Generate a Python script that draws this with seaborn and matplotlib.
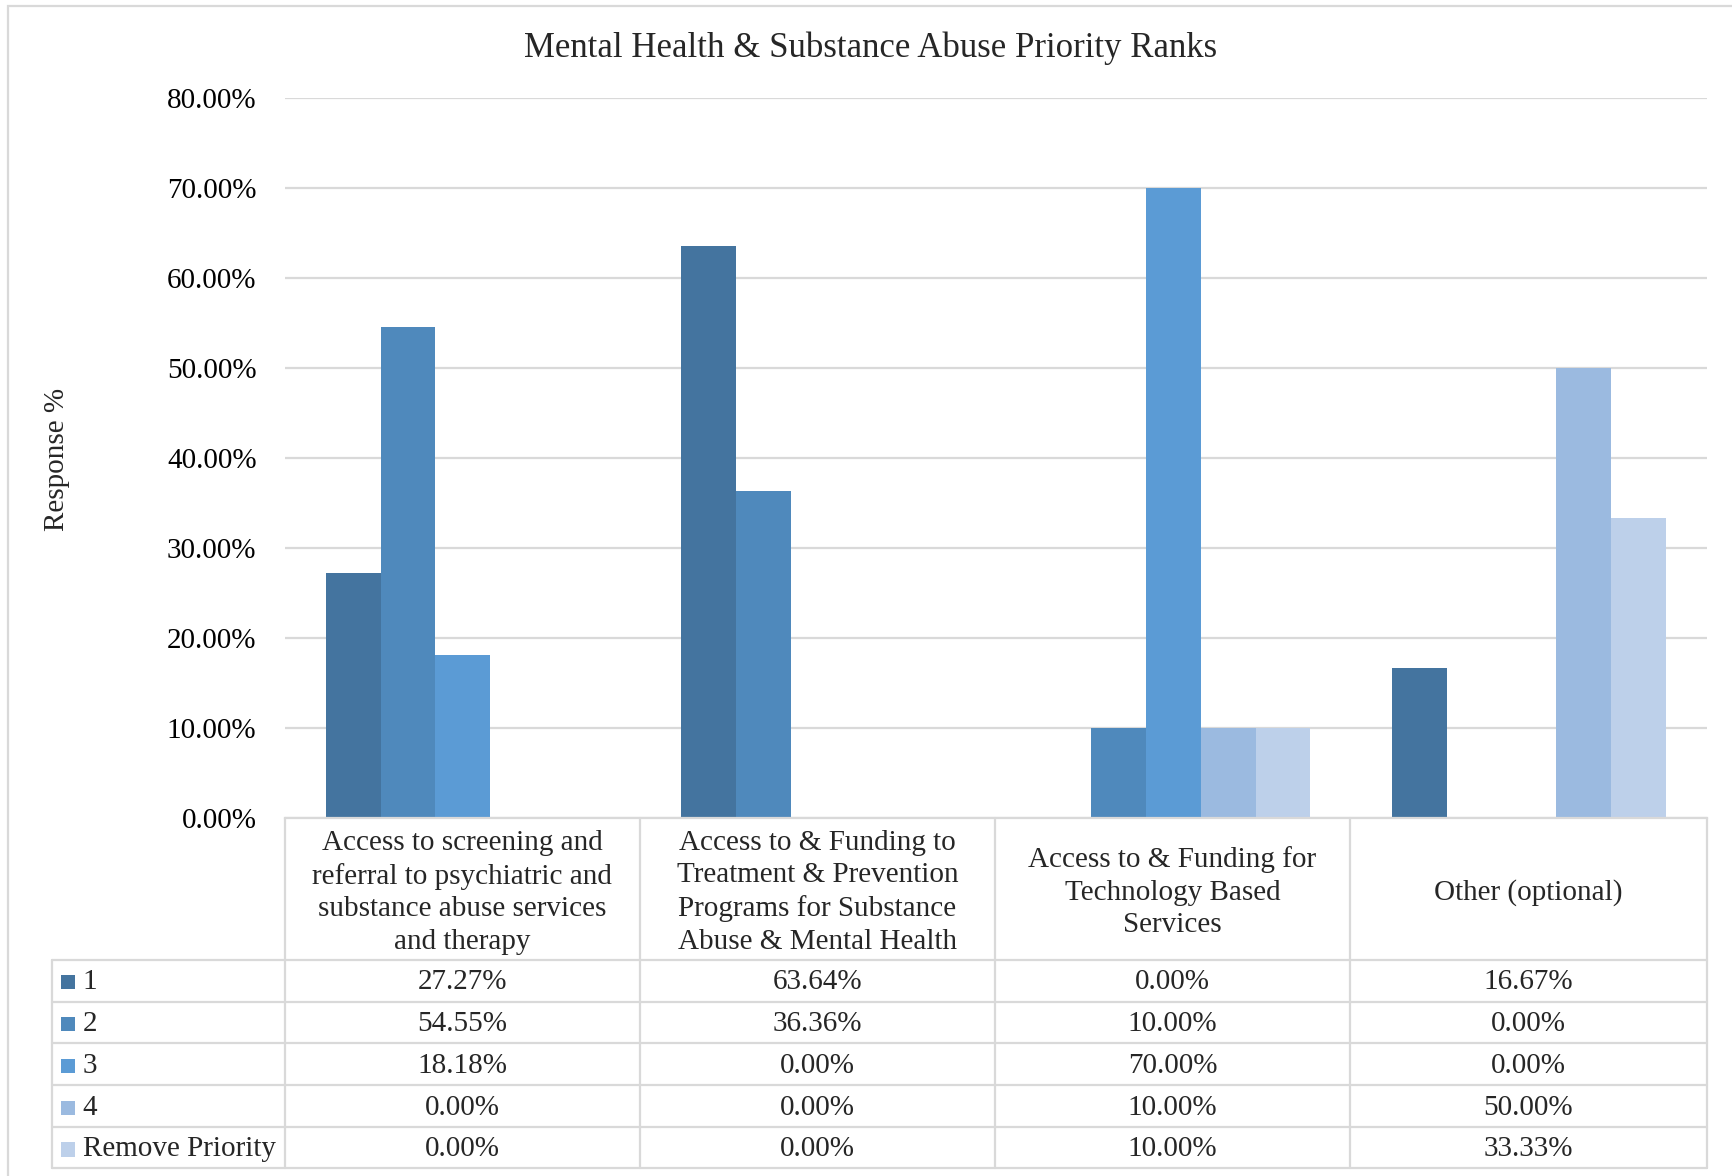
import numpy as np
import pandas as pd
import matplotlib
matplotlib.use("Agg")
import matplotlib.pyplot as plt
import seaborn as sns
from matplotlib.patches import Rectangle
from matplotlib.lines import Line2D

# ---------------- data ----------------
categories = [
    "Access to screening and\nreferral to psychiatric and\nsubstance abuse services\nand therapy",
    "Access to & Funding to\nTreatment & Prevention\nPrograms for Substance\nAbuse & Mental Health",
    "Access to & Funding for\nTechnology Based\nServices",
    "Other (optional)",
]
series = ["1", "2", "3", "4", "Remove Priority"]
rank_1 = [27.27, 63.64, 0.00, 16.67]
rank_2 = [54.55, 36.36, 10.00, 0.00]
rank_3 = [18.18, 0.00, 70.00, 0.00]
rank_4 = [0.00, 0.00, 10.00, 50.00]
remove_priority = [0.00, 0.00, 10.00, 33.33]
y_ticks = [0, 10, 20, 30, 40, 50, 60, 70, 80]
colors = ["#44749F", "#4F89BC", "#5B9BD5", "#9BBAE0", "#BDD0EA"]
title = "Mental Health & Substance Abuse Priority Ranks"
y_label = "Response %"

values = [rank_1, rank_2, rank_3, rank_4, remove_priority]
rows = []
for s, vals in zip(series, values):
    for c, v in zip(categories, vals):
        rows.append({"category": c, "rank": s, "value": v})
df = pd.DataFrame(rows)

# ---------------- style ----------------
sns.set_theme(style="white")
plt.rcParams["font.family"] = ["Liberation Serif", "DejaVu Serif"]
FS = 21
GRID = "#D9D9D9"

W, H = 1568.0, 1065.0  # layout reference grid
fig = plt.figure(figsize=(17.32, 11.76), dpi=100)
ax_l, ax_r, ax_t, ax_b = 258, 1545, 89, 741
ax = fig.add_axes([ax_l / W, 1 - ax_b / H, (ax_r - ax_l) / W, (ax_b - ax_t) / H])

sns.barplot(data=df, x="category", y="value", hue="rank", order=categories,
            hue_order=series, palette=colors, width=0.77, gap=0,
            saturation=1, linewidth=0, legend=False, ax=ax)

ax.set_xlim(-0.5, len(categories) - 0.5)
ax.set_ylim(0, 80)
ax.set_yticks(y_ticks)
ax.yaxis.set_major_formatter(lambda v, p: f"{v:.2f}%")
ax.set_xticks([])
ax.set_xlabel("")
ax.set_ylabel("")
ax.grid(axis="y", color=GRID, lw=1.6)
ax.set_axisbelow(True)
for s in ["left", "right", "top"]:
    ax.spines[s].set_visible(False)
ax.spines["bottom"].set_color(GRID)
ax.spines["bottom"].set_linewidth(1.6)
ax.tick_params(axis="y", length=0, pad=20.5, labelsize=FS, labelcolor="black")

# title & y label
fig.text(788 / W, 1 - 44 / H, title, ha="center", va="center", fontsize=25)
fig.text(52 / W, 1 - 416 / H, y_label, ha="center", va="center",
         rotation=90, fontsize=FS)

# ---------------- data table ----------------
def tx(xp):
    return (xp - ax_l) / (ax_r - ax_l)

def ty(yp):
    return (ax_b - yp) / (ax_b - ax_t)

tr = ax.transAxes
row_lines = [869, 907, 945, 983, 1021, 1058]
col_edges = [258, 579, 901, 1222, 1545]

for yl in row_lines:
    ax.add_line(Line2D([tx(47), tx(1545)], [ty(yl), ty(yl)], transform=tr,
                       color=GRID, lw=1.6, clip_on=False))
for xe in col_edges:
    ax.add_line(Line2D([tx(xe), tx(xe)], [ty(741), ty(1058)], transform=tr,
                       color=GRID, lw=1.6, clip_on=False))
ax.add_line(Line2D([tx(47), tx(47)], [ty(869), ty(1058)], transform=tr,
                   color=GRID, lw=1.6, clip_on=False))

# header labels
for i, c in enumerate(categories):
    xc = (col_edges[i] + col_edges[i + 1]) / 2
    ax.text(tx(xc), ty(808), c, transform=tr, ha="center", va="center",
            fontsize=FS, linespacing=1.33, clip_on=False)

# rows
for r, (s, vals) in enumerate(zip(series, values)):
    yc = (row_lines[r] + row_lines[r + 1]) / 2 + 1.5
    ax.add_patch(Rectangle((tx(55), ty(yc + 6.5)), tx(68) - tx(55),
                           ty(yc - 6.5) - ty(yc + 6.5), transform=tr,
                           facecolor=colors[r], edgecolor="none", clip_on=False))
    ax.text(tx(75), ty(yc), s, transform=tr, ha="left", va="center",
            fontsize=FS, clip_on=False)
    for i, v in enumerate(vals):
        xc = (col_edges[i] + col_edges[i + 1]) / 2
        ax.text(tx(xc), ty(yc), f"{v:.2f}%", transform=tr, ha="center",
                va="center", fontsize=FS, clip_on=False)

# outer chart border
fig.add_artist(Rectangle((7 / W, -0.5), 2.0, 1 - 5 / H + 0.5,
                         transform=fig.transFigure, facecolor="none",
                         edgecolor=GRID, lw=1.6))

fig.savefig("out.png", dpi=100, facecolor="white")
